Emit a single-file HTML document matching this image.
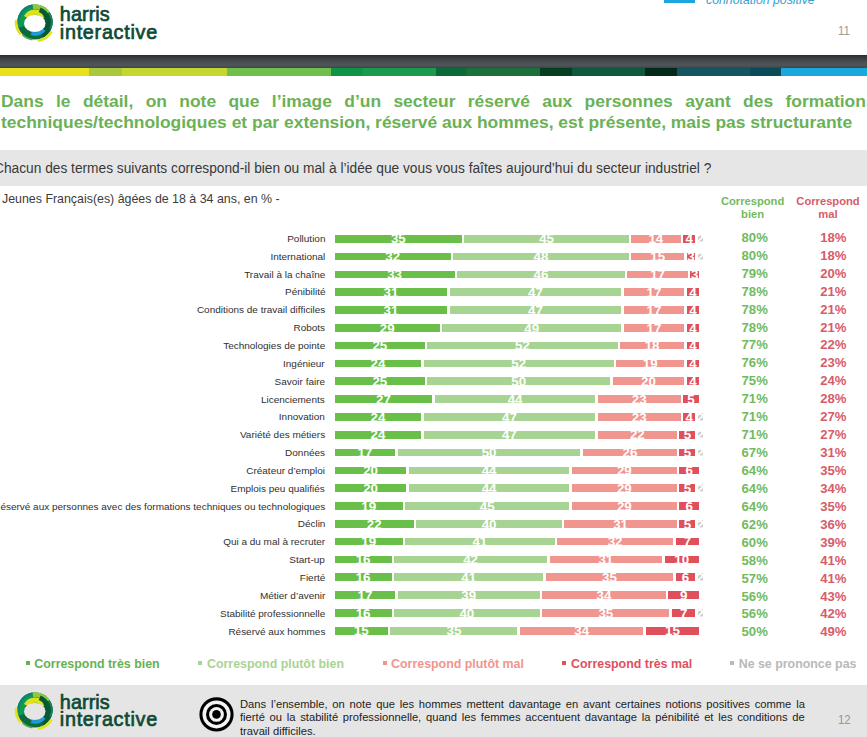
<!DOCTYPE html>
<html><head><meta charset="utf-8">
<style>
*{margin:0;padding:0;box-sizing:border-box}
html,body{width:867px;height:737px;overflow:hidden;background:#fff}
body{position:relative;font-family:"Liberation Sans",sans-serif;color:#404040}
.a{position:absolute;white-space:nowrap;line-height:1}
.lbl{position:absolute;right:541.9px;transform:scaleX(1.05);transform-origin:100% 0;font-size:9.5px;line-height:1;white-space:nowrap;color:#303030;text-align:right}
.seg{position:absolute;height:7.7px}
.num{position:absolute;font-size:13.3px;font-weight:bold;color:#fff;line-height:1;text-align:center;width:40px;white-space:nowrap}
.pg{position:absolute;font-size:13.1px;font-weight:bold;line-height:1;text-align:center;width:60px}
.lg{position:absolute;font-size:12.4px;font-weight:bold;line-height:1;white-space:nowrap}
.sq{position:absolute;width:4px;height:4px}
</style></head><body>

<svg class="a" style="left:13.3px;top:-0.1px" width="44" height="44" viewBox="-22 -22 44 44">
<circle r="17.6" fill="#0b6b3c"/><path d="M -13.06 4.75 A 13.9 13.9 0 0 1 -1.93 -13.76" fill="none" stroke="#0f9a52" stroke-width="7.4"/><path d="M -16.44 1.44 A 16.5 16.5 0 0 1 -2.30 -16.34" fill="none" stroke="#12807a" stroke-width="2.2"/><path d="M -2.11 -15.00 A 15.15 15.15 0 0 1 12.85 -8.03" fill="none" stroke="#93c83c" stroke-width="5.1"/><path d="M -8.74 -4.65 A 9.9 9.9 0 0 1 9.04 -4.03" fill="none" stroke="#dde21f" stroke-width="5.4"/><path d="M 4.69 -12.23 A 13.1 13.1 0 0 1 11.34 -6.55" fill="none" stroke="#075a30" stroke-width="5.0"/><path d="M 11.52 -7.77 A 13.9 13.9 0 0 1 6.95 12.04" fill="none" stroke="#075a30" stroke-width="7.4"/><path d="M 13.84 -9.34 A 16.7 16.7 0 0 1 15.14 7.06" fill="none" stroke="#16806c" stroke-width="1.9"/><path d="M 9.12 7.65 A 11.9 11.9 0 0 1 -3.68 11.32" fill="none" stroke="#1e9cd7" stroke-width="3.6"/><path d="M 16.45 9.50 A 19.0 19.0 0 0 1 2.64 18.82" fill="none" stroke="#e2e21e" stroke-width="2.6"/><path d="M -14.34 12.47 A 19.0 19.0 0 0 1 -18.90 -1.99" fill="none" stroke="#e2e21e" stroke-width="2.6"/><path d="M -2.48 17.63 A 17.8 17.8 0 0 1 -12.59 12.59" fill="none" stroke="#4fa84a" stroke-width="1.6"/><ellipse cx="-0.25" cy="1.4" rx="10.75" ry="8.7" fill="#fff"/>
</svg>
<div class="a" style="left:59.8px;top:5.8px;font-size:19.8px;color:#0e4a35;-webkit-text-stroke:0.7px #0e4a35;line-height:17.7px"><span style="letter-spacing:0.1px">harris</span><br><span style="letter-spacing:0.72px">interactive</span></div>

<div class="a" style="left:664px;top:0;width:31px;height:2.6px;background:#1ea5dd"></div>
<div class="a" style="left:706px;top:-5.71px;font-size:12.3px;font-style:italic;color:#33a2d0">connotation positive</div>
<div class="a" style="left:837.6px;top:25.45px;font-size:12.7px;color:#9a9a9a;transform:scaleX(0.9);transform-origin:0 0">11</div>
<div class="a" style="left:0;top:54.9px;width:867px;height:13.1px;background:linear-gradient(#2a2c2f 0%,#3a3d40 22%,#4b4f52 55%,#515559 78%,#3e4644 100%)"></div>
<div class="a" style="left:0;top:68px;width:867px;height:7.7px;background:linear-gradient(90deg,#e8e01b 0px 89.4px,#a9c83b 89.4px 121.8px,#c3d72f 121.8px 226.5px,#6fbe4e 226.5px 331px,#0e9447 331px 362.8px,#1a9a4f 362.8px 435.6px,#0c6a39 435.6px 466.3px,#1b6f3a 466.3px 540.2px,#073e22 540.2px 571.7px,#0f5a3f 571.7px 644.6px,#03291b 644.6px 676.8px,#16545f 676.8px 749.7px,#0b4a58 749.7px 781px,#1aa7de 781px 867px)"></div>
<div class="a" style="left:1.4px;top:93.17px;width:872px;font-size:17.4px;font-weight:bold;color:#6bb156;display:flex;justify-content:space-between;transform:scaleX(1.003);transform-origin:0 0"><span>Dans</span><span>le</span><span>détail,</span><span>on</span><span>note</span><span>que</span><span>l’image</span><span>d’un</span><span>secteur</span><span>réservé</span><span>aux</span><span>personnes</span><span>ayant</span><span>des</span><span>formations</span></div>
<div class="a" style="left:1.4px;top:114.17px;font-size:17.4px;font-weight:bold;color:#6bb156;transform:scaleX(1.003);transform-origin:0 0">techniques/technologiques et par extension, réservé aux hommes, est présente, mais pas structurante</div>
<div class="a" style="left:0;top:150px;width:867px;height:35.8px;background:#e6e6e6"></div>
<div class="a" style="left:-6.5px;top:161.62px;font-size:13.8px;color:#383838;transform:scaleX(0.995);transform-origin:0 0">Chacun des termes suivants correspond-il bien ou mal à l’idée que vous vous faîtes aujourd’hui du secteur industriel ?</div>
<div class="a" style="left:2px;top:192.5px;font-size:12.4px;color:#3c3c3c">Jeunes Français(es) âgées de 18 à 34 ans, en % -</div>
<div class="a" style="left:712.6px;width:80px;text-align:center;top:194.62px;font-size:11.2px;font-weight:bold;color:#72ba60;line-height:13.2px">Correspond<br>bien</div>
<div class="a" style="left:788px;width:80px;text-align:center;top:194.62px;font-size:11.2px;font-weight:bold;color:#d75c69;line-height:13.2px">Correspond<br>mal</div>
<div class="lbl" style="top:233.86px">Pollution</div>
<div class="seg" style="left:334.75px;top:234.9px;width:127.18px;background:#6abf4b"></div>
<div class="num" style="left:378.34px;top:232.49px">35</div>
<div class="seg" style="left:464.43px;top:234.9px;width:164.22px;background:#a8d493"></div>
<div class="num" style="left:526.54px;top:232.49px">45</div>
<div class="seg" style="left:631.15px;top:234.9px;width:49.37px;background:#f1958f"></div>
<div class="num" style="left:635.84px;top:232.49px">14</div>
<div class="seg" style="left:683.02px;top:234.9px;width:12.32px;background:#e0505c"></div>
<div class="num" style="left:669.18px;top:232.49px">4</div>
<div class="seg" style="left:697.84px;top:234.9px;width:4.91px;background:#c9cdd1"></div>
<div class="num" style="left:680.29px;top:232.49px">2</div>
<div class="pg" style="left:724.7px;top:230.91px;color:#72ba60">80%</div>
<div class="pg" style="left:803.3px;top:230.91px;color:#d75c69">18%</div>
<div class="lbl" style="top:251.71px">International</div>
<div class="seg" style="left:334.75px;top:252.72px;width:116.06px;background:#6abf4b"></div>
<div class="num" style="left:372.78px;top:250.31px">32</div>
<div class="seg" style="left:453.31px;top:252.72px;width:175.34px;background:#a8d493"></div>
<div class="num" style="left:520.98px;top:250.31px">48</div>
<div class="seg" style="left:631.15px;top:252.72px;width:53.08px;background:#f1958f"></div>
<div class="num" style="left:637.69px;top:250.31px">15</div>
<div class="seg" style="left:686.73px;top:252.72px;width:8.61px;background:#e0505c"></div>
<div class="num" style="left:671.03px;top:250.31px">3</div>
<div class="seg" style="left:697.84px;top:252.72px;width:4.91px;background:#c9cdd1"></div>
<div class="num" style="left:680.29px;top:250.31px">2</div>
<div class="pg" style="left:724.7px;top:248.84px;color:#72ba60">80%</div>
<div class="pg" style="left:803.3px;top:248.84px;color:#d75c69">18%</div>
<div class="lbl" style="top:269.56px">Travail à la chaîne</div>
<div class="seg" style="left:334.75px;top:270.54px;width:119.76px;background:#6abf4b"></div>
<div class="num" style="left:374.63px;top:268.13px">33</div>
<div class="seg" style="left:457.01px;top:270.54px;width:167.93px;background:#a8d493"></div>
<div class="num" style="left:520.98px;top:268.13px">46</div>
<div class="seg" style="left:627.44px;top:270.54px;width:60.49px;background:#f1958f"></div>
<div class="num" style="left:637.69px;top:268.13px">17</div>
<div class="seg" style="left:690.43px;top:270.54px;width:8.62px;background:#e0505c"></div>
<div class="num" style="left:674.74px;top:268.13px">3</div>
<div class="seg" style="left:701.55px;top:270.54px;width:1.2px;background:#c9cdd1"></div>
<div class="num" style="left:682.15px;top:268.13px">1</div>
<div class="pg" style="left:724.7px;top:266.77px;color:#72ba60">79%</div>
<div class="pg" style="left:803.3px;top:266.77px;color:#d75c69">20%</div>
<div class="lbl" style="top:287.41px">Pénibilité</div>
<div class="seg" style="left:334.75px;top:288.35px;width:112.36px;background:#6abf4b"></div>
<div class="num" style="left:370.93px;top:285.95px">31</div>
<div class="seg" style="left:449.61px;top:288.35px;width:171.63px;background:#a8d493"></div>
<div class="num" style="left:515.42px;top:285.95px">47</div>
<div class="seg" style="left:623.74px;top:288.35px;width:60.49px;background:#f1958f"></div>
<div class="num" style="left:633.98px;top:285.95px">17</div>
<div class="seg" style="left:686.73px;top:288.35px;width:12.32px;background:#e0505c"></div>
<div class="num" style="left:672.88px;top:285.95px">4</div>
<div class="seg" style="left:701.55px;top:288.35px;width:1.2px;background:#c9cdd1"></div>
<div class="num" style="left:682.15px;top:285.95px">1</div>
<div class="pg" style="left:724.7px;top:284.7px;color:#72ba60">78%</div>
<div class="pg" style="left:803.3px;top:284.7px;color:#d75c69">21%</div>
<div class="lbl" style="top:305.26px">Conditions de travail difficiles</div>
<div class="seg" style="left:334.75px;top:306.17px;width:112.36px;background:#6abf4b"></div>
<div class="num" style="left:370.93px;top:303.76px">31</div>
<div class="seg" style="left:449.61px;top:306.17px;width:171.63px;background:#a8d493"></div>
<div class="num" style="left:515.42px;top:303.76px">47</div>
<div class="seg" style="left:623.74px;top:306.17px;width:60.49px;background:#f1958f"></div>
<div class="num" style="left:633.98px;top:303.76px">17</div>
<div class="seg" style="left:686.73px;top:306.17px;width:12.32px;background:#e0505c"></div>
<div class="num" style="left:672.88px;top:303.76px">4</div>
<div class="seg" style="left:701.55px;top:306.17px;width:1.2px;background:#c9cdd1"></div>
<div class="num" style="left:682.15px;top:303.76px">1</div>
<div class="pg" style="left:724.7px;top:302.63px;color:#72ba60">78%</div>
<div class="pg" style="left:803.3px;top:302.63px;color:#d75c69">21%</div>
<div class="lbl" style="top:323.11px">Robots</div>
<div class="seg" style="left:334.75px;top:323.99px;width:104.94px;background:#6abf4b"></div>
<div class="num" style="left:367.22px;top:321.58px">29</div>
<div class="seg" style="left:442.19px;top:323.99px;width:179.05px;background:#a8d493"></div>
<div class="num" style="left:511.72px;top:321.58px">49</div>
<div class="seg" style="left:623.74px;top:323.99px;width:60.49px;background:#f1958f"></div>
<div class="num" style="left:633.98px;top:321.58px">17</div>
<div class="seg" style="left:686.73px;top:323.99px;width:12.32px;background:#e0505c"></div>
<div class="num" style="left:672.88px;top:321.58px">4</div>
<div class="seg" style="left:701.55px;top:323.99px;width:1.2px;background:#c9cdd1"></div>
<div class="num" style="left:682.15px;top:321.58px">1</div>
<div class="pg" style="left:724.7px;top:320.56px;color:#72ba60">78%</div>
<div class="pg" style="left:803.3px;top:320.56px;color:#d75c69">21%</div>
<div class="lbl" style="top:340.96px">Technologies de pointe</div>
<div class="seg" style="left:334.75px;top:341.81px;width:90.12px;background:#6abf4b"></div>
<div class="num" style="left:359.81px;top:339.4px">25</div>
<div class="seg" style="left:427.38px;top:341.81px;width:190.16px;background:#a8d493"></div>
<div class="num" style="left:502.46px;top:339.4px">52</div>
<div class="seg" style="left:620.04px;top:341.81px;width:64.19px;background:#f1958f"></div>
<div class="num" style="left:632.13px;top:339.4px">18</div>
<div class="seg" style="left:686.73px;top:341.81px;width:12.32px;background:#e0505c"></div>
<div class="num" style="left:672.88px;top:339.4px">4</div>
<div class="seg" style="left:701.55px;top:341.81px;width:1.2px;background:#c9cdd1"></div>
<div class="num" style="left:682.15px;top:339.4px">1</div>
<div class="pg" style="left:724.7px;top:338.49px;color:#72ba60">77%</div>
<div class="pg" style="left:803.3px;top:338.49px;color:#d75c69">22%</div>
<div class="lbl" style="top:358.81px">Ingénieur</div>
<div class="seg" style="left:334.75px;top:359.63px;width:86.42px;background:#6abf4b"></div>
<div class="num" style="left:357.96px;top:357.22px">24</div>
<div class="seg" style="left:423.67px;top:359.63px;width:190.16px;background:#a8d493"></div>
<div class="num" style="left:498.75px;top:357.22px">52</div>
<div class="seg" style="left:616.33px;top:359.63px;width:67.9px;background:#f1958f"></div>
<div class="num" style="left:630.28px;top:357.22px">19</div>
<div class="seg" style="left:686.73px;top:359.63px;width:12.32px;background:#e0505c"></div>
<div class="num" style="left:672.88px;top:357.22px">4</div>
<div class="seg" style="left:701.55px;top:359.63px;width:1.2px;background:#c9cdd1"></div>
<div class="num" style="left:682.15px;top:357.22px">1</div>
<div class="pg" style="left:724.7px;top:356.42px;color:#72ba60">76%</div>
<div class="pg" style="left:803.3px;top:356.42px;color:#d75c69">23%</div>
<div class="lbl" style="top:376.66px">Savoir faire</div>
<div class="seg" style="left:334.75px;top:377.44px;width:90.12px;background:#6abf4b"></div>
<div class="num" style="left:359.81px;top:375.04px">25</div>
<div class="seg" style="left:427.38px;top:377.44px;width:182.75px;background:#a8d493"></div>
<div class="num" style="left:498.75px;top:375.04px">50</div>
<div class="seg" style="left:612.62px;top:377.44px;width:71.6px;background:#f1958f"></div>
<div class="num" style="left:628.42px;top:375.04px">20</div>
<div class="seg" style="left:686.73px;top:377.44px;width:12.32px;background:#e0505c"></div>
<div class="num" style="left:672.88px;top:375.04px">4</div>
<div class="seg" style="left:701.55px;top:377.44px;width:1.2px;background:#c9cdd1"></div>
<div class="num" style="left:682.15px;top:375.04px">1</div>
<div class="pg" style="left:724.7px;top:374.35px;color:#72ba60">75%</div>
<div class="pg" style="left:803.3px;top:374.35px;color:#d75c69">24%</div>
<div class="lbl" style="top:394.51px">Licenciements</div>
<div class="seg" style="left:334.75px;top:395.26px;width:97.53px;background:#6abf4b"></div>
<div class="num" style="left:363.52px;top:392.85px">27</div>
<div class="seg" style="left:434.78px;top:395.26px;width:160.52px;background:#a8d493"></div>
<div class="num" style="left:495.05px;top:392.85px">44</div>
<div class="seg" style="left:597.81px;top:395.26px;width:82.71px;background:#f1958f"></div>
<div class="num" style="left:619.16px;top:392.85px">23</div>
<div class="seg" style="left:683.02px;top:395.26px;width:16.03px;background:#e0505c"></div>
<div class="num" style="left:671.03px;top:392.85px">5</div>
<div class="seg" style="left:701.55px;top:395.26px;width:1.2px;background:#c9cdd1"></div>
<div class="num" style="left:682.15px;top:392.85px">1</div>
<div class="pg" style="left:724.7px;top:392.28px;color:#72ba60">71%</div>
<div class="pg" style="left:803.3px;top:392.28px;color:#d75c69">28%</div>
<div class="lbl" style="top:412.36px">Innovation</div>
<div class="seg" style="left:334.75px;top:413.08px;width:86.42px;background:#6abf4b"></div>
<div class="num" style="left:357.96px;top:410.67px">24</div>
<div class="seg" style="left:423.67px;top:413.08px;width:171.64px;background:#a8d493"></div>
<div class="num" style="left:489.49px;top:410.67px">47</div>
<div class="seg" style="left:597.81px;top:413.08px;width:82.71px;background:#f1958f"></div>
<div class="num" style="left:619.16px;top:410.67px">23</div>
<div class="seg" style="left:683.02px;top:413.08px;width:12.32px;background:#e0505c"></div>
<div class="num" style="left:669.18px;top:410.67px">4</div>
<div class="seg" style="left:697.84px;top:413.08px;width:4.91px;background:#c9cdd1"></div>
<div class="num" style="left:680.29px;top:410.67px">2</div>
<div class="pg" style="left:724.7px;top:410.21px;color:#72ba60">71%</div>
<div class="pg" style="left:803.3px;top:410.21px;color:#d75c69">27%</div>
<div class="lbl" style="top:430.21px">Variété des métiers</div>
<div class="seg" style="left:334.75px;top:430.9px;width:86.42px;background:#6abf4b"></div>
<div class="num" style="left:357.96px;top:428.49px">24</div>
<div class="seg" style="left:423.67px;top:430.9px;width:171.64px;background:#a8d493"></div>
<div class="num" style="left:489.49px;top:428.49px">47</div>
<div class="seg" style="left:597.81px;top:430.9px;width:79.01px;background:#f1958f"></div>
<div class="num" style="left:617.31px;top:428.49px">22</div>
<div class="seg" style="left:679.32px;top:430.9px;width:16.02px;background:#e0505c"></div>
<div class="num" style="left:667.33px;top:428.49px">5</div>
<div class="seg" style="left:697.84px;top:430.9px;width:4.91px;background:#c9cdd1"></div>
<div class="num" style="left:680.29px;top:428.49px">2</div>
<div class="pg" style="left:724.7px;top:428.14px;color:#72ba60">71%</div>
<div class="pg" style="left:803.3px;top:428.14px;color:#d75c69">27%</div>
<div class="lbl" style="top:448.06px">Données</div>
<div class="seg" style="left:334.75px;top:448.72px;width:60.49px;background:#6abf4b"></div>
<div class="num" style="left:344.99px;top:446.31px">17</div>
<div class="seg" style="left:397.74px;top:448.72px;width:182.75px;background:#a8d493"></div>
<div class="num" style="left:469.11px;top:446.31px">50</div>
<div class="seg" style="left:582.99px;top:448.72px;width:93.83px;background:#f1958f"></div>
<div class="num" style="left:609.9px;top:446.31px">26</div>
<div class="seg" style="left:679.32px;top:448.72px;width:16.02px;background:#e0505c"></div>
<div class="num" style="left:667.33px;top:446.31px">5</div>
<div class="seg" style="left:697.84px;top:448.72px;width:4.91px;background:#c9cdd1"></div>
<div class="num" style="left:680.29px;top:446.31px">2</div>
<div class="pg" style="left:724.7px;top:446.07px;color:#72ba60">67%</div>
<div class="pg" style="left:803.3px;top:446.07px;color:#d75c69">31%</div>
<div class="lbl" style="top:465.91px">Créateur d’emploi</div>
<div class="seg" style="left:334.75px;top:466.53px;width:71.6px;background:#6abf4b"></div>
<div class="num" style="left:350.55px;top:464.13px">20</div>
<div class="seg" style="left:408.85px;top:466.53px;width:160.52px;background:#a8d493"></div>
<div class="num" style="left:469.11px;top:464.13px">44</div>
<div class="seg" style="left:571.87px;top:466.53px;width:104.95px;background:#f1958f"></div>
<div class="num" style="left:604.34px;top:464.13px">29</div>
<div class="seg" style="left:679.32px;top:466.53px;width:19.73px;background:#e0505c"></div>
<div class="num" style="left:669.18px;top:464.13px">6</div>
<div class="seg" style="left:701.55px;top:466.53px;width:1.2px;background:#c9cdd1"></div>
<div class="num" style="left:682.15px;top:464.13px">1</div>
<div class="pg" style="left:724.7px;top:464px;color:#72ba60">64%</div>
<div class="pg" style="left:803.3px;top:464px;color:#d75c69">35%</div>
<div class="lbl" style="top:483.76px">Emplois peu qualifiés</div>
<div class="seg" style="left:334.75px;top:484.35px;width:71.6px;background:#6abf4b"></div>
<div class="num" style="left:350.55px;top:481.94px">20</div>
<div class="seg" style="left:408.85px;top:484.35px;width:160.52px;background:#a8d493"></div>
<div class="num" style="left:469.11px;top:481.94px">44</div>
<div class="seg" style="left:571.87px;top:484.35px;width:104.95px;background:#f1958f"></div>
<div class="num" style="left:604.34px;top:481.94px">29</div>
<div class="seg" style="left:679.32px;top:484.35px;width:16.02px;background:#e0505c"></div>
<div class="num" style="left:667.33px;top:481.94px">5</div>
<div class="seg" style="left:697.84px;top:484.35px;width:4.91px;background:#c9cdd1"></div>
<div class="num" style="left:680.29px;top:481.94px">2</div>
<div class="pg" style="left:724.7px;top:481.93px;color:#72ba60">64%</div>
<div class="pg" style="left:803.3px;top:481.93px;color:#d75c69">34%</div>
<div class="lbl" style="top:501.61px">Réservé aux personnes avec des formations techniques ou technologiques</div>
<div class="seg" style="left:334.75px;top:502.17px;width:67.89px;background:#6abf4b"></div>
<div class="num" style="left:348.7px;top:499.76px">19</div>
<div class="seg" style="left:405.14px;top:502.17px;width:164.23px;background:#a8d493"></div>
<div class="num" style="left:467.26px;top:499.76px">45</div>
<div class="seg" style="left:571.87px;top:502.17px;width:104.95px;background:#f1958f"></div>
<div class="num" style="left:604.34px;top:499.76px">29</div>
<div class="seg" style="left:679.32px;top:502.17px;width:19.73px;background:#e0505c"></div>
<div class="num" style="left:669.18px;top:499.76px">6</div>
<div class="seg" style="left:701.55px;top:502.17px;width:1.2px;background:#c9cdd1"></div>
<div class="num" style="left:682.15px;top:499.76px">1</div>
<div class="pg" style="left:724.7px;top:499.86px;color:#72ba60">64%</div>
<div class="pg" style="left:803.3px;top:499.86px;color:#d75c69">35%</div>
<div class="lbl" style="top:519.46px">Déclin</div>
<div class="seg" style="left:334.75px;top:519.99px;width:79.01px;background:#6abf4b"></div>
<div class="num" style="left:354.25px;top:517.58px">22</div>
<div class="seg" style="left:416.26px;top:519.99px;width:145.7px;background:#a8d493"></div>
<div class="num" style="left:469.11px;top:517.58px">40</div>
<div class="seg" style="left:564.46px;top:519.99px;width:112.36px;background:#f1958f"></div>
<div class="num" style="left:600.64px;top:517.58px">31</div>
<div class="seg" style="left:679.32px;top:519.99px;width:16.02px;background:#e0505c"></div>
<div class="num" style="left:667.33px;top:517.58px">5</div>
<div class="seg" style="left:697.84px;top:519.99px;width:4.91px;background:#c9cdd1"></div>
<div class="num" style="left:680.29px;top:517.58px">2</div>
<div class="pg" style="left:724.7px;top:517.79px;color:#72ba60">62%</div>
<div class="pg" style="left:803.3px;top:517.79px;color:#d75c69">36%</div>
<div class="lbl" style="top:537.31px">Qui a du mal à recruter</div>
<div class="seg" style="left:334.75px;top:537.81px;width:67.89px;background:#6abf4b"></div>
<div class="num" style="left:348.7px;top:535.4px">19</div>
<div class="seg" style="left:405.14px;top:537.81px;width:149.4px;background:#a8d493"></div>
<div class="num" style="left:459.85px;top:535.4px">41</div>
<div class="seg" style="left:557.05px;top:537.81px;width:116.06px;background:#f1958f"></div>
<div class="num" style="left:595.08px;top:535.4px">32</div>
<div class="seg" style="left:675.61px;top:537.81px;width:23.44px;background:#e0505c"></div>
<div class="num" style="left:667.33px;top:535.4px">7</div>
<div class="seg" style="left:701.55px;top:537.81px;width:1.2px;background:#c9cdd1"></div>
<div class="num" style="left:682.15px;top:535.4px">1</div>
<div class="pg" style="left:724.7px;top:535.72px;color:#72ba60">60%</div>
<div class="pg" style="left:803.3px;top:535.72px;color:#d75c69">39%</div>
<div class="lbl" style="top:555.16px">Start-up</div>
<div class="seg" style="left:334.75px;top:555.62px;width:56.78px;background:#6abf4b"></div>
<div class="num" style="left:343.14px;top:553.22px">16</div>
<div class="seg" style="left:394.03px;top:555.62px;width:153.11px;background:#a8d493"></div>
<div class="num" style="left:450.58px;top:553.22px">42</div>
<div class="seg" style="left:549.64px;top:555.62px;width:112.36px;background:#f1958f"></div>
<div class="num" style="left:585.82px;top:553.22px">31</div>
<div class="seg" style="left:664.5px;top:555.62px;width:34.55px;background:#e0505c"></div>
<div class="num" style="left:661.77px;top:553.22px">10</div>
<div class="seg" style="left:701.55px;top:555.62px;width:1.2px;background:#c9cdd1"></div>
<div class="num" style="left:682.15px;top:553.22px">1</div>
<div class="pg" style="left:724.7px;top:553.65px;color:#72ba60">58%</div>
<div class="pg" style="left:803.3px;top:553.65px;color:#d75c69">41%</div>
<div class="lbl" style="top:573.01px">Fierté</div>
<div class="seg" style="left:334.75px;top:573.44px;width:56.78px;background:#6abf4b"></div>
<div class="num" style="left:343.14px;top:571.03px">16</div>
<div class="seg" style="left:394.03px;top:573.44px;width:149.4px;background:#a8d493"></div>
<div class="num" style="left:448.73px;top:571.03px">41</div>
<div class="seg" style="left:545.93px;top:573.44px;width:127.18px;background:#f1958f"></div>
<div class="num" style="left:589.52px;top:571.03px">35</div>
<div class="seg" style="left:675.61px;top:573.44px;width:19.73px;background:#e0505c"></div>
<div class="num" style="left:665.47px;top:571.03px">6</div>
<div class="seg" style="left:697.84px;top:573.44px;width:4.91px;background:#c9cdd1"></div>
<div class="num" style="left:680.29px;top:571.03px">2</div>
<div class="pg" style="left:724.7px;top:571.58px;color:#72ba60">57%</div>
<div class="pg" style="left:803.3px;top:571.58px;color:#d75c69">41%</div>
<div class="lbl" style="top:590.86px">Métier d’avenir</div>
<div class="seg" style="left:334.75px;top:591.26px;width:60.49px;background:#6abf4b"></div>
<div class="num" style="left:344.99px;top:588.85px">17</div>
<div class="seg" style="left:397.74px;top:591.26px;width:142px;background:#a8d493"></div>
<div class="num" style="left:448.73px;top:588.85px">39</div>
<div class="seg" style="left:542.23px;top:591.26px;width:123.47px;background:#f1958f"></div>
<div class="num" style="left:583.97px;top:588.85px">34</div>
<div class="seg" style="left:668.2px;top:591.26px;width:30.85px;background:#e0505c"></div>
<div class="num" style="left:663.62px;top:588.85px">9</div>
<div class="seg" style="left:701.55px;top:591.26px;width:1.2px;background:#c9cdd1"></div>
<div class="num" style="left:682.15px;top:588.85px">1</div>
<div class="pg" style="left:724.7px;top:589.51px;color:#72ba60">56%</div>
<div class="pg" style="left:803.3px;top:589.51px;color:#d75c69">43%</div>
<div class="lbl" style="top:608.71px">Stabilité professionnelle</div>
<div class="seg" style="left:334.75px;top:609.08px;width:56.78px;background:#6abf4b"></div>
<div class="num" style="left:343.14px;top:606.67px">16</div>
<div class="seg" style="left:394.03px;top:609.08px;width:145.7px;background:#a8d493"></div>
<div class="num" style="left:446.88px;top:606.67px">40</div>
<div class="seg" style="left:542.23px;top:609.08px;width:127.17px;background:#f1958f"></div>
<div class="num" style="left:585.82px;top:606.67px">35</div>
<div class="seg" style="left:671.9px;top:609.08px;width:23.43px;background:#e0505c"></div>
<div class="num" style="left:663.62px;top:606.67px">7</div>
<div class="seg" style="left:697.84px;top:609.08px;width:4.91px;background:#c9cdd1"></div>
<div class="num" style="left:680.29px;top:606.67px">2</div>
<div class="pg" style="left:724.7px;top:607.44px;color:#72ba60">56%</div>
<div class="pg" style="left:803.3px;top:607.44px;color:#d75c69">42%</div>
<div class="lbl" style="top:626.56px">Réservé aux hommes</div>
<div class="seg" style="left:334.75px;top:626.9px;width:53.07px;background:#6abf4b"></div>
<div class="num" style="left:341.29px;top:624.49px">15</div>
<div class="seg" style="left:390.32px;top:626.9px;width:127.18px;background:#a8d493"></div>
<div class="num" style="left:433.91px;top:624.49px">35</div>
<div class="seg" style="left:520px;top:626.9px;width:123.47px;background:#f1958f"></div>
<div class="num" style="left:561.74px;top:624.49px">34</div>
<div class="seg" style="left:645.97px;top:626.9px;width:53.08px;background:#e0505c"></div>
<div class="num" style="left:652.51px;top:624.49px">15</div>
<div class="seg" style="left:701.55px;top:626.9px;width:1.2px;background:#c9cdd1"></div>
<div class="num" style="left:682.15px;top:624.49px">1</div>
<div class="pg" style="left:724.7px;top:625.37px;color:#72ba60">50%</div>
<div class="pg" style="left:803.3px;top:625.37px;color:#d75c69">49%</div>
<div class="sq" style="left:26px;top:661.4px;background:#66b152"></div>
<div class="lg" style="left:34.3px;top:657.6px;color:#66b152">Correspond très bien</div>
<div class="sq" style="left:198px;top:661.4px;background:#a8d493"></div>
<div class="lg" style="left:207px;top:657.6px;color:#a8d493">Correspond plutôt bien</div>
<div class="sq" style="left:382.5px;top:661.4px;background:#f0958f"></div>
<div class="lg" style="left:391.1px;top:657.6px;color:#f0958f">Correspond plutôt mal</div>
<div class="sq" style="left:562.4px;top:661.4px;background:#e0505c"></div>
<div class="lg" style="left:571.1px;top:657.6px;color:#e0505c">Correspond très mal</div>
<div class="sq" style="left:730px;top:661.4px;background:#b9b9b9"></div>
<div class="lg" style="left:738.7px;top:657.6px;color:#b9b9b9">Ne se prononce pas</div>
<div class="a" style="left:0;top:684.7px;width:867px;height:53px;background:#e6e5e5"></div>
<svg class="a" style="left:13.3px;top:687.7px" width="44" height="44" viewBox="-22 -22 44 44">
<circle r="17.6" fill="#0b6b3c"/><path d="M -13.06 4.75 A 13.9 13.9 0 0 1 -1.93 -13.76" fill="none" stroke="#0f9a52" stroke-width="7.4"/><path d="M -16.44 1.44 A 16.5 16.5 0 0 1 -2.30 -16.34" fill="none" stroke="#12807a" stroke-width="2.2"/><path d="M -2.11 -15.00 A 15.15 15.15 0 0 1 12.85 -8.03" fill="none" stroke="#93c83c" stroke-width="5.1"/><path d="M -8.74 -4.65 A 9.9 9.9 0 0 1 9.04 -4.03" fill="none" stroke="#dde21f" stroke-width="5.4"/><path d="M 4.69 -12.23 A 13.1 13.1 0 0 1 11.34 -6.55" fill="none" stroke="#075a30" stroke-width="5.0"/><path d="M 11.52 -7.77 A 13.9 13.9 0 0 1 6.95 12.04" fill="none" stroke="#075a30" stroke-width="7.4"/><path d="M 13.84 -9.34 A 16.7 16.7 0 0 1 15.14 7.06" fill="none" stroke="#16806c" stroke-width="1.9"/><path d="M 9.12 7.65 A 11.9 11.9 0 0 1 -3.68 11.32" fill="none" stroke="#1e9cd7" stroke-width="3.6"/><path d="M 16.45 9.50 A 19.0 19.0 0 0 1 2.64 18.82" fill="none" stroke="#e2e21e" stroke-width="2.6"/><path d="M -14.34 12.47 A 19.0 19.0 0 0 1 -18.90 -1.99" fill="none" stroke="#e2e21e" stroke-width="2.6"/><path d="M -2.48 17.63 A 17.8 17.8 0 0 1 -12.59 12.59" fill="none" stroke="#4fa84a" stroke-width="1.6"/><ellipse cx="-0.25" cy="1.4" rx="10.75" ry="8.7" fill="#e6e5e5"/>
</svg>
<div class="a" style="left:59.8px;top:693.6px;font-size:19.8px;color:#0e4a35;-webkit-text-stroke:0.7px #0e4a35;line-height:17.7px"><span style="letter-spacing:0.1px">harris</span><br><span style="letter-spacing:0.72px">interactive</span></div>

<svg class="a" style="left:196px;top:694px" width="42" height="42" viewBox="0 0 42 42">
<circle cx="20.5" cy="20.4" r="17.1" fill="#000"/><circle cx="20.5" cy="20.4" r="14" fill="#f4f4f4"/>
<circle cx="20.5" cy="20.4" r="10.5" fill="#000"/><circle cx="20.5" cy="20.4" r="7.4" fill="#f4f4f4"/>
<circle cx="20.5" cy="20.4" r="4.3" fill="#000"/></svg>
<div class="a" style="left:240px;width:565px;top:699.02px;font-size:11.2px;color:#222;display:flex;justify-content:space-between"><span>Dans</span><span>l’ensemble,</span><span>on</span><span>note</span><span>que</span><span>les</span><span>hommes</span><span>mettent</span><span>davantage</span><span>en</span><span>avant</span><span>certaines</span><span>notions</span><span>positives</span><span>comme</span><span>la</span></div>
<div class="a" style="left:240px;width:565px;top:712.02px;font-size:11.2px;color:#222;display:flex;justify-content:space-between"><span>fierté</span><span>ou</span><span>la</span><span>stabilité</span><span>professionnelle,</span><span>quand</span><span>les</span><span>femmes</span><span>accentuent</span><span>davantage</span><span>la</span><span>pénibilité</span><span>et</span><span>les</span><span>conditions</span><span>de</span></div>
<div class="a" style="left:240px;top:725.82px;font-size:11.2px;color:#222">travail difficiles.</div>
<div class="a" style="left:837.6px;top:713.55px;font-size:12.7px;color:#959595;transform:scaleX(0.9);transform-origin:0 0">12</div>
</body></html>
